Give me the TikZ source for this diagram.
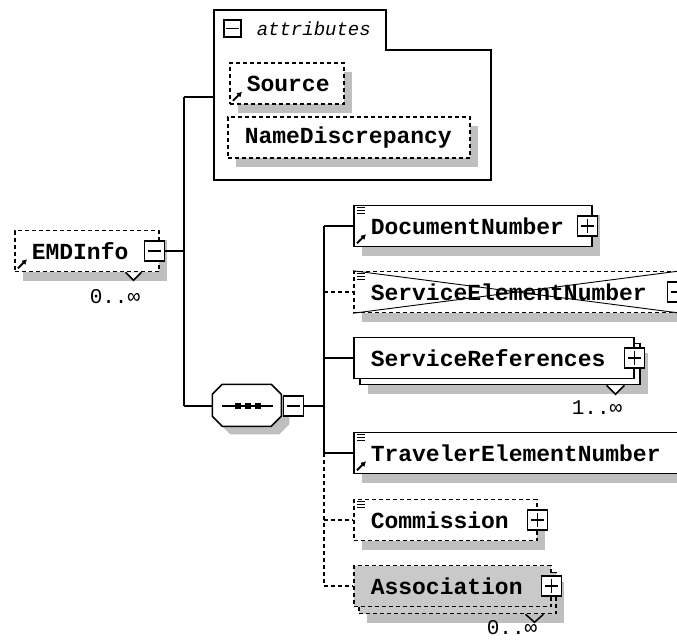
\documentclass[tikz,border=0pt]{standalone}
\usepackage{fontspec}
\newfontfamily\tagfont{Liberation Mono}
\usetikzlibrary{arrows.meta,positioning,shadows}
\definecolor{shadowgray}{gray}{0.75}
\definecolor{groupgray}{gray}{0.79}
\hyphenpenalty=10000

\newcommand{\minusbox}[2]{%
  \node[pm] (#1) at (#2) {};
  \draw[solid] ([xshift=4pt]#1.west) -- ([xshift=-4pt]#1.east);}
\newcommand{\plusbox}[2]{%
  \minusbox{#1}{#2}
  \draw[solid] ([yshift=-4pt]#1.north) -- ([yshift=4pt]#1.south);}
\newcommand{\listmark}[1]{%
  \foreach \dy in {3,6,9}
    \draw[solid,line width=1pt] ([shift={(4,\dy)}]#1.north west) -- ++(8,0);}
\newcommand{\refmark}[1]{%
  \draw[solid,line width=2pt,-{Latex[length=5pt,width=6pt]}]
    ([shift={(4,-4)}]#1.south west) -- ++(9,-9);}

\begin{document}
\begin{tikzpicture}[x=1pt,y=-1pt,line width=1.5pt,
    elem/.style={draw,fill=white,anchor=west,minimum height=41,
      inner xsep=17pt,text width=#1,align=left,
      font=\tagfont\bfseries\fontsize{23}{24}\selectfont},
    optional/.style={dash pattern=on 4pt off 3pt},
    boxshadow/.style={drop shadow={shadow xshift=8pt,shadow yshift=-9pt,
      fill=shadowgray,opacity=1}},
    pm/.style={draw,solid,fill=white,minimum size=20,inner sep=0},
    occurs/.style={font=\tagfont\fontsize{21}{22}\selectfont}]
  \useasboundingbox (0,0) rectangle (677,641);
  \clip (0,0) rectangle (677,641);

  % root element
  \node[elem=110pt,optional,boxshadow] (emd) at (14,251) {EMDInfo};
  \filldraw[solid,fill=white] ([xshift=-34pt]emd.south east) -- ++(8,8) -- ++(8,-8);
  \minusbox{emdtog}{[xshift=-5pt]emd.east}
  \refmark{emd}
  \node[occurs] (emdocc) at (115,297) {0..∞};

  % attribute group
  \draw[fill=white] (214,180) -- (214,10) -- (386,10) -- (386,50)
    -- (491,50) -- (491,180) -- cycle;
  \node[pm,minimum size=17] (attrtog) at (232.5,28.5) {};
  \draw ([xshift=3pt]attrtog.west) -- ([xshift=-3pt]attrtog.east);
  \node[font=\tagfont\itshape\fontsize{19}{20}\selectfont,anchor=west,inner sep=0]
    (attrlbl) at (256,29) {attributes};
  \coordinate (attrin) at (214,97);
  \node[elem=80pt,optional,boxshadow] (src) at (229,83.5) {Source};
  \refmark{src}
  \node[elem=208pt,optional,boxshadow] (namedisc) at (227,137.5) {NameDiscrepancy};

  % sequence compositor
  \node[inner sep=0,minimum width=69,minimum height=42] (seq) at (247.5,406) {};
  \fill[shadowgray] ([shift={(18,8)}]seq.north west) -- ++(49,0) -- ++(10,10)
    -- ++(0,22) -- ++(-10,10) -- ++(-49,0) -- ++(-10,-10) -- ++(0,-22) -- cycle;
  \filldraw[fill=white] ([xshift=10pt]seq.north west) -- ++(49,0) -- ++(10,10)
    -- ++(0,22) -- ++(-10,10) -- ++(-49,0) -- ++(-10,-10) -- ++(0,-22) -- cycle;
  \draw ([xshift=10pt]seq.west) -- ([xshift=-10pt]seq.east);
  \foreach \sx in {-10,0,10}
    \fill ([xshift=\sx pt]seq.center) +(-3,-3) rectangle +(3,3);
  \minusbox{seqtog}{[xshift=10.5pt]seq.east}

  % children
  \node[elem=204pt,boxshadow] (docnum) at (353,226) {DocumentNumber};
  \listmark{docnum}
  \refmark{docnum}
  \plusbox{doctog}{[xshift=-5pt]docnum.east}

  \node[elem=293pt,optional,boxshadow] (sen) at (353,292) {ServiceElementNumber};
  \draw[line width=0.9pt] (sen.north west) -- (sen.south east)
    (sen.south west) -- (sen.north east);
  \listmark{sen}
  \plusbox{sentog}{[xshift=-4pt]sen.east}

  \node[elem=246pt,boxshadow] (srback) at (359,364) {};
  \node[elem=246pt] (sr) at (353,358) {ServiceReferences};
  \plusbox{srtog}{sr.east}
  \filldraw[fill=white] ([xshift=-34pt]srback.south east) -- ++(9,9) -- ++(9,-9);
  \node[occurs] (srocc) at (597,408) {1..∞};

  \node[elem=320pt,boxshadow] (ten) at (353,453) {TravelerElementNumber};
  \listmark{ten}
  \refmark{ten}

  \node[elem=149pt,optional,boxshadow] (comm) at (353,520) {Commission};
  \listmark{comm}
  \plusbox{commtog}{comm.east}

  \node[elem=163pt,optional,fill=groupgray,boxshadow] (assocback) at (358,593) {};
  \node[elem=163pt,optional,fill=groupgray] (assoc) at (353,586) {Association};
  \plusbox{assoctog}{assoc.east}
  \draw ([xshift=-31pt]assocback.south east) -- ++(9,8) -- ++(9,-8);
  \node[occurs] (assococc) at (512,628) {0..∞};

  % connectors
  \coordinate (ltop) at (184,97);
  \coordinate (lbot) at (184,406);
  \draw (ltop) -- (lbot);
  \draw (emdtog.east) -- (emdtog.east -| ltop);
  \draw (ltop) -- (attrin);
  \draw (lbot) -- (seq.west);

  \coordinate (rtop) at (324,226);
  \coordinate (rmid) at (324,453);
  \coordinate (rbot) at (324,586);
  \draw (rtop) -- (rmid);
  \draw[optional] (rmid) -- (rbot);
  \draw (seqtog.east) -- (seqtog.east -| rtop);
  \draw (rtop) -- (docnum.west);
  \draw[optional] (sen.west -| rtop) -- (sen.west);
  \draw (sr.west -| rtop) -- (sr.west);
  \draw (rmid) -- (ten.west);
  \draw[optional] (comm.west -| rtop) -- (comm.west);
  \draw[optional] (rbot) -- (assoc.west);
\end{tikzpicture}
\end{document}
